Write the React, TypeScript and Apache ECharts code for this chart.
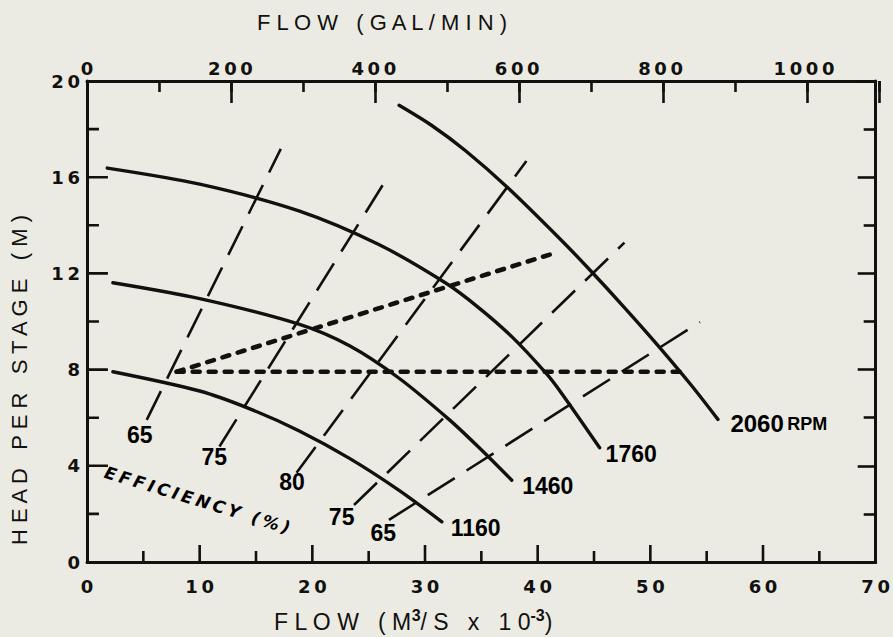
import React, { useEffect, useRef } from "react";
import * as echarts from "echarts";

// ---- axes ----
const flowMax = 70; // m3/s x 1e-3
const galMax = 1100; // gal/min
const headMax = 20; // m
const flowMajorTicks = [10, 20, 30, 40, 50, 60];
const flowMinorTicks = [5, 15, 25, 35, 45, 55, 65];
const headMajorTicks = [4, 8, 12, 16];
const headMinorTicks = [2, 6, 10, 14, 18];

// ---- pump characteristic curves (flow m3/s x1e-3, head m) ----
const rpm1160Flow = [2.3, 10.0, 14.4, 18.8, 23.3, 27.7, 31.5];
const rpm1160Head = [7.91, 7.11, 6.38, 5.46, 4.31, 2.98, 1.67];

const rpm1460Flow = [2.3, 10.0, 18.8, 23.3, 27.7, 32.1, 34.7, 37.7];
const rpm1460Head = [11.61, 10.95, 9.89, 8.99, 7.64, 5.94, 4.8, 3.4];

const rpm1760Flow = [1.8, 10.0, 18.8, 25.9, 31.8, 34.7, 37.7, 40.7, 42.1, 45.5];
const rpm1760Head = [16.38, 15.71, 14.6, 13.2, 11.61, 10.6, 9.37, 7.87, 7.03, 4.75];

const rpm2060Flow = [27.7, 30.6, 33.6, 37.4, 42.1, 44.7, 47.7, 50.7, 53.6, 56.0];
const rpm2060Head = [18.99, 18.15, 17.1, 15.54, 13.38, 12.11, 10.58, 8.99, 7.37, 5.93];

const speedLabels = ["1160", "1460", "1760"];
const speedLabelFlow = [34.5, 40.9, 48.3];
const speedLabelHead = [1.42, 3.17, 4.49];
const topSpeedLabel = "2060";
const topSpeedFlow = 61.4;
const topSpeedHead = 5.74;

// ---- iso-efficiency lines ----
const effLabels = ["65", "75", "80", "75", "65"];
const effStartFlow = [5.3, 11.76, 18.6, 23.7, 26.8];
const effStartHead = [5.91, 4.8, 3.71, 2.37, 1.75];
const effEndFlow = [17.2, 26.3, 39.0, 47.7, 54.4];
const effEndHead = [17.18, 15.71, 16.67, 13.28, 9.98];
const effLabelFlow = [4.69, 11.3, 18.2, 22.6, 26.3];
const effLabelHead = [5.29, 4.36, 3.33, 1.87, 1.21];
const effTitle = "EFFICIENCY (%)";
const effTitleFlow = 9.8;
const effTitleHead = 2.58;

// ---- best efficiency dotted lines ----
const levelFlow = [7.96, 53.0];
const levelHead = [7.91, 7.91];
const riseFlow = [7.96, 41.8];
const riseHead = [7.91, 12.89];

const INK = "#111110";
const PAPER = "#ecebe3";

const spaced = (s: string, sep = "\u2009") => s.split("").join(sep);
const zip = (xs: number[], ys: number[]) => xs.map((x, i) => [x, ys[i]]);

export default function App() {
  const ref = useRef<HTMLDivElement>(null);
  useEffect(() => {
    const chart = echarts.init(ref.current!, null, { renderer: "svg" });

    const tickLabel = () => ({
      color: INK,
      fontFamily: "DejaVu Sans",
      fontWeight: "bold" as const,
      fontSize: 18,
      lineHeight: 18,
      formatter: (v: number) => spaced(String(v)),
    });
    const axisLine = () => ({ show: true, onZero: false, lineStyle: { color: INK, width: 3 } });
    const noLine = () => ({ show: false, onZero: false });
    const tickStyle = () => ({ color: INK, width: 2.6 });
    const ticks = (len: number) => ({ show: true, inside: true, length: len, lineStyle: tickStyle() });
    const minor = (len: number) => ({ show: true, splitNumber: 2, length: len, lineStyle: tickStyle() });
    const GRID_W = 792;
    const GRID_H = 481;
    const rect = () => ({ left: 87, top: 81, width: GRID_W, height: GRID_H, containLabel: false });

    // tick lengths expressed in the other axis' units (px / px-per-unit)
    const flowPerPx = flowMax / GRID_W;
    const headPerPx = headMax / GRID_H;

    const curve = (name: string, xs: number[], ys: number[]) => ({
      type: "line",
      name,
      data: zip(xs, ys),
      smooth: 0.3,
      symbol: "none",
      silent: true,
      z: 4,
      lineStyle: { color: INK, width: 3.4, cap: "round" },
    });

    const effSeries = effLabels.map((l, i) => ({
      type: "line",
      name: "eff " + l + " #" + i,
      data: [
        [effStartFlow[i], effStartHead[i]],
        [effEndFlow[i], effEndHead[i]],
      ],
      symbol: "none",
      silent: true,
      z: 3,
      lineStyle: { color: INK, width: 2.6, type: [32, 14] },
    }));

    const dotted = (name: string, xs: number[], ys: number[]) => ({
      type: "line",
      name,
      data: zip(xs, ys),
      symbol: "none",
      silent: true,
      z: 3,
      lineStyle: { color: INK, width: 4.6, type: [7, 9], cap: "round" },
    });

    const tickLines = (name: string, segs: any[]) => ({
      type: "line",
      name,
      data: segs,
      connectNulls: false,
      symbol: "none",
      silent: true,
      clip: false,
      z: 20,
      lineStyle: { color: INK, width: 2.6 },
    });
    const bottomSegs: any[] = [];
    flowMajorTicks.forEach((v) => bottomSegs.push([v, 0], [v, 17 * headPerPx], "-"));
    flowMinorTicks.forEach((v) => bottomSegs.push([v, 0], [v, 11 * headPerPx], "-"));
    const leftSegs: any[] = [];
    headMajorTicks.forEach((v) => leftSegs.push([0, v], [21 * flowPerPx, v], "-"));
    headMinorTicks.forEach((v) => leftSegs.push([0, v], [12 * flowPerPx, v], "-"));

    const labelFont = {
      color: "#000",
      textBorderWidth: 0,
      fontFamily: "Liberation Sans",
      fontWeight: "bold" as const,
      fontSize: 23,
    };
    const textScatter = (name: string, data: any[], label: any) => ({
      type: "scatter",
      name,
      symbol: "circle",
      symbolSize: 0,
      silent: true,
      z: 5,
      itemStyle: { color: "#000", opacity: 0 },
      data,
      label: { show: true, position: "inside", opacity: 1, ...label },
    });

    const titles = [
      {
        type: "text", id: "title-top", x: 382, y: 22, silent: true,
        style: {
          text: "F L O W   ( G A L / M I N )",
          fill: INK, fontFamily: "Liberation Sans", fontSize: 22,
          align: "center", verticalAlign: "middle", textAlign: "center", textVerticalAlign: "middle",
        },
      },
      {
        type: "text", id: "title-left", x: 19, y: 380, rotation: Math.PI / 2, silent: true,
        style: {
          text: "H E A D   P E R   S T A G E   ( M )",
          fill: INK, fontFamily: "Liberation Sans", fontSize: 22,
          align: "center", verticalAlign: "middle", textAlign: "center", textVerticalAlign: "middle",
        },
      },
      {
        type: "text", id: "title-bottom", x: 413, y: 622, silent: true,
        style: {
          text: "{t|F L O W   ( M}{s|3}{t|/ S   x   1 0}{s|-3}{t|)}",
          fill: INK,
          align: "center", verticalAlign: "middle", textAlign: "center", textVerticalAlign: "middle",
          rich: {
            t: { fontFamily: "Liberation Sans", fontSize: 23, lineHeight: 30, fill: INK, color: INK },
            s: {
              fontFamily: "Liberation Sans", fontWeight: "bold", fontSize: 16, lineHeight: 16,
              verticalAlign: "top", fill: INK, color: INK,
            },
          },
        },
      },
    ];

    const option: any = {
      animation: false,
      backgroundColor: PAPER,
      grid: [rect(), rect()],
      xAxis: [
        {
          type: "value", gridIndex: 0, position: "bottom", min: 0, max: flowMax, interval: 10,
          axisLine: axisLine(), axisTick: { show: false }, splitLine: { show: false },
          axisLabel: { ...tickLabel(), margin: 15 },
        },
        {
          type: "value", gridIndex: 0, position: "top", min: 0, max: galMax, interval: 200,
          axisLine: axisLine(), axisTick: { show: false }, splitLine: { show: false },
          axisLabel: { ...tickLabel(), margin: 4, showMaxLabel: false },
        },
        {
          type: "value", gridIndex: 1, position: "top", min: 0, max: galMax, interval: 200,
          axisLine: noLine(), axisTick: ticks(22),
          splitLine: { show: false }, axisLabel: { show: false },
        },
        {
          type: "value", gridIndex: 1, position: "top", min: 0, max: galMax, interval: 100,
          axisLine: noLine(), axisTick: ticks(11),
          splitLine: { show: false }, axisLabel: { show: false },
        },
      ],
      yAxis: [
        {
          type: "value", gridIndex: 0, position: "left", min: 0, max: headMax, interval: 4,
          axisLine: axisLine(), axisTick: { show: false }, splitLine: { show: false },
          axisLabel: { ...tickLabel(), margin: 7 },
        },
        {
          type: "value", gridIndex: 0, position: "right", min: 0, max: headMax, interval: 4,
          axisLine: axisLine(), axisTick: ticks(18), minorTick: minor(12),
          splitLine: { show: false }, axisLabel: { show: false },
        },
        {
          type: "value", gridIndex: 1, position: "left", min: 0, max: headMax, show: false,
        },
      ],
      series: [
        tickLines("flow ticks", bottomSegs),
        tickLines("head ticks", leftSegs),
        curve("1160 RPM", rpm1160Flow, rpm1160Head),
        curve("1460 RPM", rpm1460Flow, rpm1460Head),
        curve("1760 RPM", rpm1760Flow, rpm1760Head),
        curve("2060 RPM", rpm2060Flow, rpm2060Head),
        ...effSeries,
        dotted("bep level", levelFlow, levelHead),
        dotted("bep rise", riseFlow, riseHead),
        textScatter(
          "speed labels",
          speedLabels.map((t, i) => ({ name: t, value: [speedLabelFlow[i], speedLabelHead[i]] })),
          { formatter: "{b}", ...labelFont }
        ),
        textScatter(
          "top speed label",
          [{ name: topSpeedLabel, value: [topSpeedFlow, topSpeedHead] }],
          {
            formatter: "{a|{b}} {r|RPM}",
            rich: {
              a: { ...labelFont, fontSize: 24 },
              r: { ...labelFont, fontSize: 18 },
            },
          }
        ),
        textScatter(
          "efficiency labels",
          effLabels.map((t, i) => ({ name: t, value: [effLabelFlow[i], effLabelHead[i]] })),
          { formatter: "{b}", ...labelFont }
        ),
        textScatter(
          "efficiency title",
          [{ name: effTitle, value: [effTitleFlow, effTitleHead] }],
          {
            rotate: -17,
            formatter: (p: any) => spaced(p.name),
            color: "#000",
            textBorderWidth: 0,
            fontFamily: "DejaVu Sans",
            fontWeight: "bold",
            fontSize: 17,
            fontStyle: "italic",
          }
        ),
      ],
      graphic: titles,
    };

    chart.setOption(option);
    return () => chart.dispose();
  }, []);

  return (
    <div
      ref={ref}
      style={{ position: "fixed", left: 0, top: 0, width: 893, height: 637, background: PAPER }}
    />
  );
}
